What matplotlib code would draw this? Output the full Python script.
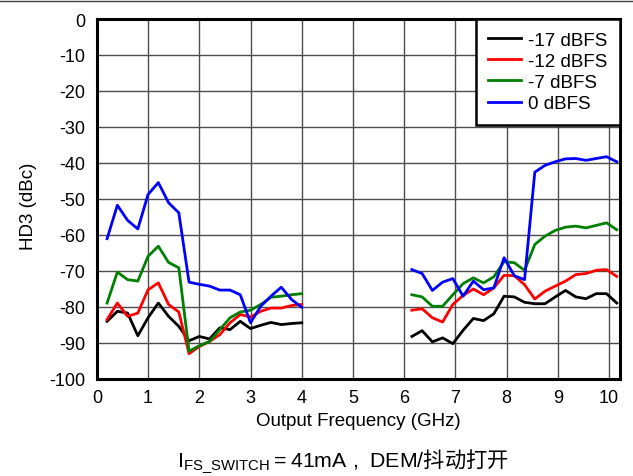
import numpy as np
import matplotlib.pyplot as plt
from matplotlib.lines import Line2D

plt.rcParams['font.family'] = ['Liberation Sans', 'Noto Sans CJK SC', 'DejaVu Sans']
plt.rcParams['mathtext.fontset'] = 'custom'
plt.rcParams['mathtext.rm'] = 'Liberation Sans'
plt.rcParams['axes.unicode_minus'] = False

# output frequency (GHz), two measured bands
f_low = [0.2, 0.4, 0.6, 0.8, 1.0, 1.2, 1.4, 1.6, 1.8, 2.0,
         2.2, 2.4, 2.6, 2.8, 3.0, 3.2, 3.4, 3.6, 3.8, 4.0]
f_high = [6.15, 6.35, 6.55, 6.75, 6.95, 7.15, 7.35, 7.55, 7.75, 7.95, 8.15,
          8.35, 8.55, 8.75, 8.95, 9.15, 9.35, 9.55, 9.75, 9.95, 10.15]

labels = ['-17 dBFS', '-12 dBFS', '-7 dBFS', '0 dBFS']
colors = ['black', '#ff0000', '#008000', '#0000ff']

# HD3 (dBc)
hd3_m17_low = [-84.1, -81.3, -81.8, -88.1, -83.1, -79.0, -82.7, -85.5, -89.5, -88.3,
               -89.0, -85.9, -86.4, -84.1, -86.1, -85.2, -84.4, -85.0, -84.7, -84.5]
hd3_m17_high = [-88.3, -86.7, -89.8, -88.7, -90.3, -86.6, -83.3, -83.9, -82.0, -77.1, -77.3,
                -78.8, -79.2, -79.2, -77.3, -75.5, -77.3, -77.8, -76.4, -76.4, -79.0]
hd3_m12_low = [-83.6, -79.0, -82.7, -81.8, -75.3, -73.4, -79.4, -81.5, -93.1, -91.1,
               -89.7, -87.8, -84.5, -82.2, -82.9, -81.3, -80.4, -80.4, -79.7, -79.4]
hd3_m12_high = [-81.0, -80.6, -83.1, -84.3, -79.4, -76.9, -75.1, -76.7, -74.8, -71.3, -71.4,
                -73.9, -77.9, -75.7, -74.3, -72.9, -71.1, -70.8, -69.9, -69.7, -71.6]
hd3_m7_low = [-79.0, -70.4, -72.5, -72.9, -66.0, -63.2, -67.7, -69.2, -92.4, -90.9,
              -89.7, -86.4, -83.1, -81.5, -81.0, -79.4, -77.4, -77.1, -76.7, -76.4]
hd3_m7_high = [-76.7, -77.3, -79.9, -79.9, -76.7, -73.6, -72.0, -73.4, -71.7, -67.5, -67.8,
               -69.9, -62.7, -60.4, -58.8, -57.9, -57.6, -58.1, -57.4, -56.7, -58.6]
hd3_0_low = [-61.1, -51.8, -56.0, -58.4, -48.8, -45.5, -51.1, -53.9, -73.2, -73.8,
             -74.3, -75.4, -75.4, -76.7, -84.5, -79.9, -77.1, -74.6, -78.0, -80.2]
hd3_0_high = [-69.7, -70.8, -75.5, -73.2, -72.2, -77.1, -72.9, -75.3, -74.8, -66.4, -71.4,
              -72.5, -42.6, -40.7, -39.7, -38.9, -38.8, -39.3, -38.8, -38.3, -39.7]

series = [(hd3_m17_low, hd3_m17_high), (hd3_m12_low, hd3_m12_high),
          (hd3_m7_low, hd3_m7_high), (hd3_0_low, hd3_0_high)]

fig = plt.figure(figsize=(6.33, 4.77), dpi=100)
ax = fig.add_axes([0.153, 0.2044, 0.827, 0.7536])

freq = np.concatenate([f_low, [np.nan], f_high])
for (lo, hi), c, lab in zip(series, colors, labels):
    y = np.concatenate([lo, [np.nan], hi])
    ax.plot(freq, y, color=c, lw=2, label=lab, zorder=3)

ax.set_xlim(0, 10.22)
ax.set_ylim(-100, 0)
ax.set_xticks(np.arange(0, 11, 1))
ax.set_yticks(np.arange(-100, 1, 10))
ax.grid(True, color='0.3', lw=1)
ax.tick_params(length=0, labelsize=13)
ax.tick_params(axis='x', pad=7.5)
ax.tick_params(axis='y', pad=8.5)
for s in ax.spines.values():
    s.set_linewidth(2.2)
    s.set_color('black')

ax.set_xlabel('Output Frequency (GHz)', fontsize=13.5)
ax.xaxis.set_label_coords(0.5, -0.093)
ax.set_ylabel('HD3 (dBc)', fontsize=13.5)
ax.yaxis.set_label_coords(-0.114, 0.4825)

leg = ax.legend(loc='upper right', fontsize=13.5, fancybox=False, framealpha=1,
                edgecolor='black', borderaxespad=0, handlelength=1.75,
                handletextpad=0.38, labelspacing=0.21, borderpad=0.68)
leg.get_frame().set_linewidth(1.8)

fig.text(0.541, 0.0216,
         r'$\mathrm{I_{FS\_SWITCH}=41mA\ ,\ DEM/}$抖动打开',
         ha='center', va='baseline', fontsize=15.3,
         family=['Noto Sans CJK SC'])

fig.add_artist(Line2D([0, 1], [0.996, 0.996], color='0.25', lw=1))

fig.savefig('out.png', dpi=100)
